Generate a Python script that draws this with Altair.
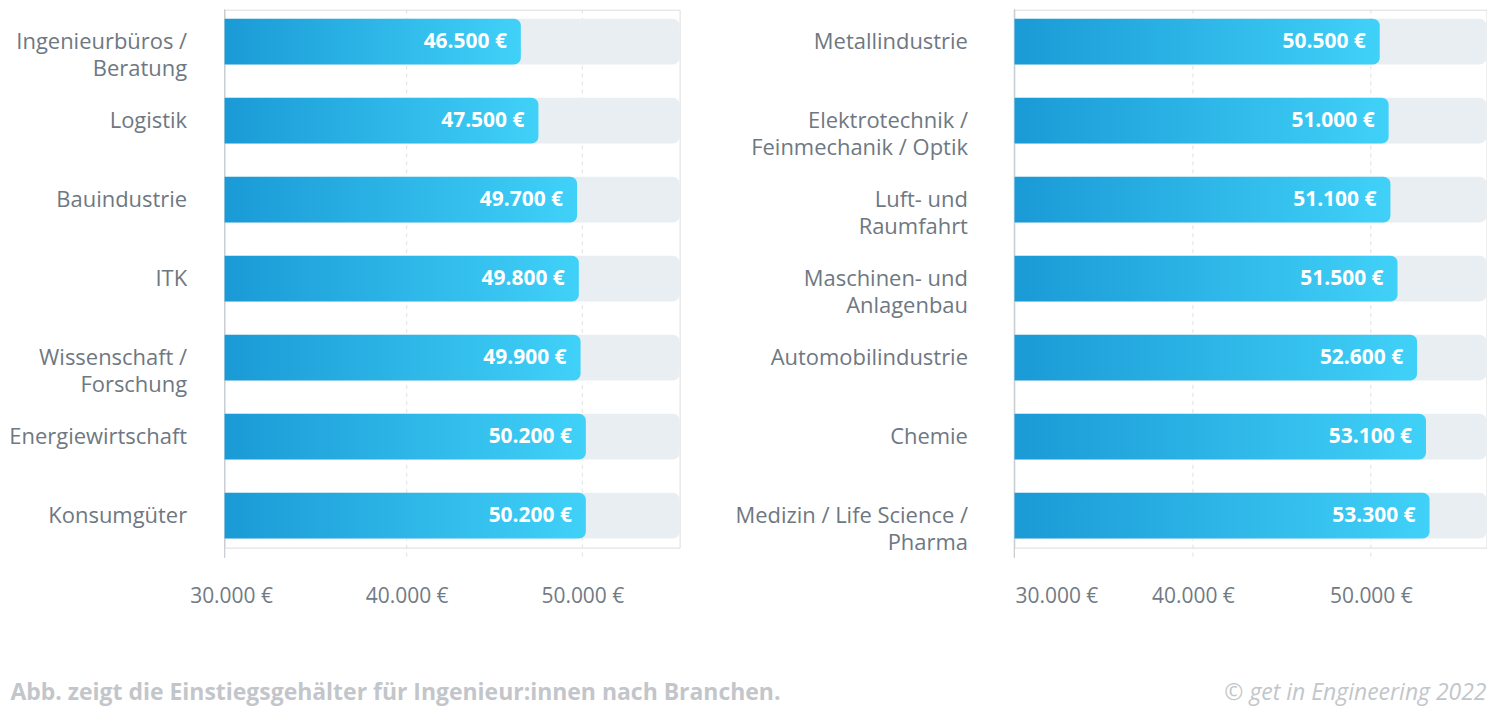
import altair as alt
import pandas as pd

# ---------------- data ----------------
left_categories = [
    "Ingenieurbüros /\nBeratung",
    "Logistik",
    "Bauindustrie",
    "ITK",
    "Wissenschaft /\nForschung",
    "Energiewirtschaft",
    "Konsumgüter",
]
left_values = [46500, 47500, 49700, 49800, 49900, 50200, 50200]

right_categories = [
    "Metallindustrie",
    "Elektrotechnik /\nFeinmechanik / Optik",
    "Luft- und\nRaumfahrt",
    "Maschinen- und\nAnlagenbau",
    "Automobilindustrie",
    "Chemie",
    "Medizin / Life Science /\nPharma",
]
right_values = [50500, 51000, 51100, 51500, 52600, 53100, 53300]

tick_values = [30000, 40000, 50000]
grid_values = [40000, 50000]

footer_left = "Abb. zeigt die Einstiegsgehälter für Ingenieur:innen nach Branchen."
footer_right = "© get in Engineering 2022"

FONT = "Open Sans"
LABEL_COLOR = "#6e7882"
TICK_COLOR = "#717b85"
FOOTER_COLOR = "#c2c6ca"
TRACK_COLOR = "#e9eef2"
GRID_COLOR = "#dde2e6"
AXIS_COLOR = "#c9ced3"

gradient = alt.Gradient(
    gradient="linear",
    stops=[
        alt.GradientStop(color="#1a9ad6", offset=0),
        alt.GradientStop(color="#40d1f8", offset=1),
    ],
    x1=0, x2=1, y1=0, y2=0,
)

HEIGHT = 539


def fmt_eur(v):
    return f"{v:,}".replace(",", ".") + " €"


def panel(categories, values, domain, track_max, width, label_dx, footer=None):
    df = pd.DataFrame({
        "cat": categories,
        "value": values,
        "start": [domain[0]] * len(values),
        "track": [track_max] * len(values),
        "label": [fmt_eur(v) for v in values],
    })
    grid_df = pd.DataFrame({"g": grid_values})

    yenc = alt.Y("cat:N", sort=categories, axis=None,
                 scale=alt.Scale(domain=categories, paddingInner=0.42, paddingOuter=0.114))
    xscale = alt.Scale(domain=domain, zero=False, nice=False)

    base = alt.Chart(df)

    grid = alt.Chart(grid_df).mark_rule(
        color=GRID_COLOR, strokeDash=[4, 4], strokeWidth=1
    ).encode(
        x=alt.X("g:Q", scale=xscale),
        y=alt.value(0), y2=alt.value(552),
    )

    axis_line = base.mark_rule(color=AXIS_COLOR, strokeWidth=1).encode(
        x=alt.value(0), y=alt.value(0), y2=alt.value(549)
    )

    track = base.mark_bar(
        color=TRACK_COLOR, cornerRadiusTopRight=7, cornerRadiusBottomRight=7
    ).encode(
        x=alt.X("start:Q", scale=xscale, title=None,
                axis=alt.Axis(values=tick_values, grid=False, domain=False, ticks=False,
                              tickSize=0, labelPadding=38, labelFontSize=21,
                              labelFont=FONT, labelColor=TICK_COLOR, labelFontWeight=500,
                              labelExpr="replace(format(datum.value, ',d'), ',', '.') + ' €'")),
        x2="track:Q",
        y=yenc,
    )

    bars = base.mark_bar(
        color=gradient, cornerRadiusTopRight=7, cornerRadiusBottomRight=7
    ).encode(
        x=alt.X("start:Q", scale=xscale),
        x2="value:Q",
        y=yenc,
    )

    value_text = base.mark_text(
        align="right", baseline="middle", dx=-14, color="white",
        font=FONT, fontSize=21, fontWeight="bold",
    ).encode(
        x=alt.X("value:Q", scale=xscale),
        y=yenc,
        text="label:N",
    )

    cat_text = base.mark_text(
        align="right", baseline="middle", color=LABEL_COLOR, font=FONT,
        fontSize=22, lineBreak="\n", lineHeight=27,
    ).encode(
        x=alt.value(label_dx),
        y=yenc,
        text="cat:N",
    )

    layers = [grid, axis_line, track, bars, value_text, cat_text]

    if footer is not None:
        for ftext, fx, falign, fweight, fstyle in footer:
            fdf = pd.DataFrame({"t": [ftext]})
            layers.append(
                alt.Chart(fdf).mark_text(
                    align=falign, baseline="middle", color=FOOTER_COLOR, font=FONT,
                    fontSize=23, fontWeight=fweight, fontStyle=fstyle,
                ).encode(x=alt.value(fx), y=alt.value(685), text="t:N")
            )

    return alt.layer(*layers).properties(width=width, height=HEIGHT)


left = panel(left_categories, left_values, [29630, 55540], 55540, 456, -37.5,
             footer=[(footer_left, -214.5, "left", "bold", "normal")])
right = panel(right_categories, right_values, [29970, 56500], 56500, 473, -46.6,
              footer=[(footer_right, 473, "right", "normal", "italic")])

chart = alt.hconcat(left, right, spacing=335.5, bounds="flush").properties(
    padding=0, background="white"
).configure_view(stroke=None).configure(font=FONT)

chart.save("out.html", embed_options={"renderer": "svg", "actions": False})
